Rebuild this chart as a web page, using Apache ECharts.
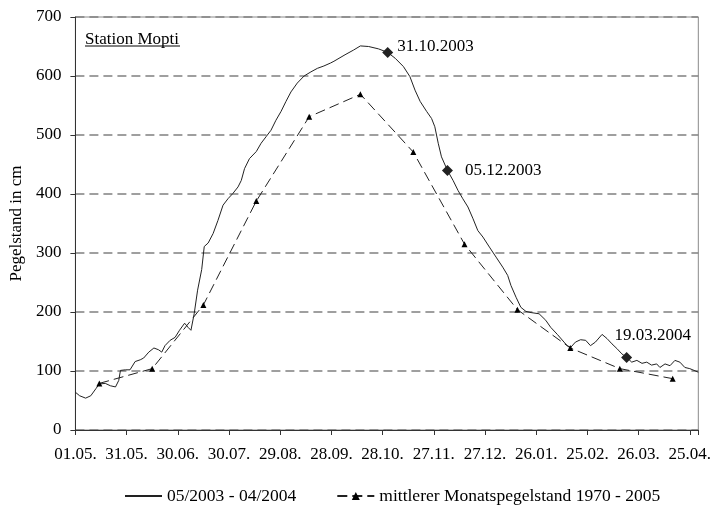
<!DOCTYPE html>
<html>
<head>
<meta charset="utf-8">
<script src="https://cdn.jsdelivr.net/npm/echarts@6/dist/echarts.min.js"></script>
<style>
html,body{margin:0;padding:0;background:#fff;}
#chart{width:714px;height:505px;}
</style>
</head>
<body>
<div id="chart"></div>
<script>
// Daily water level 05/2003 - 04/2004 (day offset from 01.05.2003, cm)
var dailyDays = [0,2.5,6,9,12,14,17.5,20.5,23.5,25.4,26.4,29.3,32,35,38,40,43,46,48.7,50.6,52.5,55.5,58.4,61,64,66,67.7,69.6,71.6,74,75.5,77.8,80.7,83.5,86.5,89.4,92.3,95.3,97.2,99.1,102,106,108.8,111.7,114.6,117.5,120.5,123.4,126.3,130,134,138,141.8,145.6,149.5,151.5,158,163,167,171.8,177.6,183,187.4,192.2,196,199,202,205.8,208.7,210.6,212.6,214.5,218,221.3,224.2,227,230,233,235.8,238.8,242.6,246.5,250.4,253.3,255.2,258.2,261,264,267,271.7,275.6,278.5,282.4,286.3,288.2,290.2,293,296,299,301.8,304.7,308.6,311.5,314.4,317.3,320.2,323,326,329,332,334.8,337.6,340.6,342.5,345.5,348.4,351.3,354.2,357.1,360,365];
var dailyLevels = [64,58,54,58,70,78,79,75,73,84,101,102,102,116,119,122,132,139,136,132,143,152,157,169,181,174,169,197,237,272,311,317,333,355,381,392,401,412,423,443,460,472,486,497,508,525,540,557,573,588,600,607,613,617,622,625,636,644,651,650,646,640,630,616,599,576,557,540,528,514,486,463,440,423,406,392,378,358,338,327,310,293,276,262,245,225,208,201,199,197,186,174,162,149,143,140,149,153,152,143,149,162,155,146,138,129,123,115,118,113,115,110,112,106,112,109,118,115,106,104,98];

// Mean monthly level 1970 - 2005
var monthDays = [14,45,75,106,137,167,198,228,259,290,319,350];
var monthLevels = [79,104,212,388,531,569,471,315,204,139,104,87];

// Marked dates
var markDays = [183,218,323];
var markLevels = [640,440,123];
var markLabels = ['31.10.2003','05.12.2003','19.03.2004'];

// X tick labels (every 30 days from 01.05.2003)
var tickLabels = ['01.05.','31.05.','30.06.','30.07.','29.08.','28.09.','28.10.','27.11.','27.12.','26.01.','25.02.','26.03.','25.04.'];

var seriesNames = ['05/2003 - 04/2004','mittlerer Monatspegelstand 1970 - 2005'];

var FONT = 'Liberation Serif';
var chart = echarts.init(document.getElementById('chart'), null, {renderer:'canvas'});

var dailyData = dailyDays.map(function(d,i){return [d, dailyLevels[i]];});
var monthData = monthDays.map(function(d,i){return [d, monthLevels[i]];});
var labelStyles = [
  {position:'right', distance:4, offset:[0,-6]},
  {position:'right', distance:12, offset:[0,0]},
  {position:'top', distance:5, offset:[26,-3]}
];
var markData = markDays.map(function(d,i){
  var ls = labelStyles[i];
  return {value:[d, markLevels[i]], label:{show:true, formatter:markLabels[i], position:ls.position, distance:ls.distance, offset:ls.offset}};
});

chart.setOption({
  animation:false,
  backgroundColor:'#fff',
  textStyle:{fontFamily:FONT},
  grid:{left:73, right:13, top:17, bottom:75, show:true, borderColor:'#8a8a8a', borderWidth:1, backgroundColor:'transparent'},
  legend:{
    data:[{name:seriesNames[0], itemStyle:{opacity:0}}, {name:seriesNames[1]}],
    left:119, top:482,
    itemWidth:37, itemHeight:10, itemGap:40,
    textStyle:{fontFamily:FONT, fontSize:17.5, color:'#000'}
  },
  graphic:[
    {type:'text', left:85, top:31, style:{text:'Station Mopti', font:'17px "Liberation Serif"', fill:'#000'}},
    {type:'line', shape:{x1:85, y1:46, x2:180, y2:46}, style:{stroke:'#000', lineWidth:1}}
  ],
  xAxis:{
    type:'value', min:0, max:365, interval:30,
    axisLine:{show:true, lineStyle:{color:'#333', width:1}},
    axisTick:{show:true, inside:false, length:5, lineStyle:{color:'#333'}},
    axisLabel:{margin:16, fontFamily:FONT, fontSize:17, color:'#000',
      formatter:function(v){ var k=v/30; return (k===Math.round(k) && tickLabels[k]) ? tickLabels[k] : ''; }},
    splitLine:{show:false}
  },
  yAxis:{
    type:'value', min:0, max:700, interval:100,
    name:'Pegelstand in cm', nameLocation:'middle', nameGap:50,
    nameTextStyle:{fontFamily:FONT, fontSize:17, color:'#000'},
    axisLine:{show:true, lineStyle:{color:'#333', width:1}},
    axisTick:{show:true, inside:false, length:5, lineStyle:{color:'#333'}},
    axisLabel:{margin:14, fontFamily:FONT, fontSize:17, color:'#000'},
    splitLine:{show:true, lineStyle:{color:'#808080', width:1.5, type:[9,5]}}
  },
  series:[
    {
      name:seriesNames[0], type:'line', data:dailyData,
      symbol:'none', showSymbol:false, smooth:false,
      lineStyle:{color:'#222', width:1}, itemStyle:{color:'#222'}, z:3
    },
    {
      name:seriesNames[1], type:'line', data:monthData,
      symbol:'triangle', symbolSize:6, showSymbol:true,
      lineStyle:{color:'#222', width:1, type:[10,5]}, itemStyle:{color:'#000'}, z:3
    },
    {
      name:'Marken', type:'scatter', data:markData,
      symbol:'diamond', symbolSize:11,
      itemStyle:{color:'#222', opacity:1},
      label:{fontFamily:FONT, fontSize:17, color:'#000'}, z:4
    }
  ]
});
</script>
</body>
</html>
